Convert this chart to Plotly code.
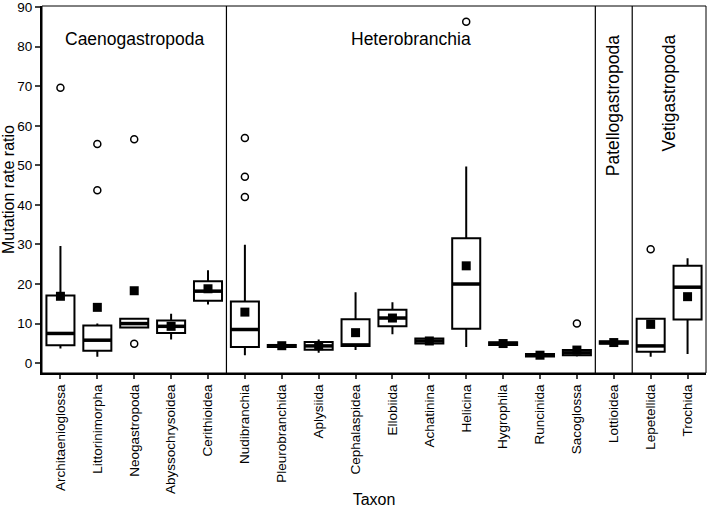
import plotly.graph_objects as go

# taxa, in plotting order
taxa = ["Architaenioglossa", "Littorinimorpha", "Neogastropoda", "Abyssochrysoidea",
        "Cerithioidea", "Nudibranchia", "Pleurobranchida", "Aplysiida", "Cephalaspidea",
        "Ellobiida", "Achatinina", "Helicina", "Hygrophila", "Runcinida", "Sacoglossa",
        "Lottioidea", "Lepetellida", "Trochida"]

# clades and how many taxa each holds
clades = ["Caenogastropoda", "Heterobranchia", "Patellogastropoda", "Vetigastropoda"]
clade_sizes = [5, 10, 1, 2]

# box statistics
q1 = [4.5, 3.1, 9.0, 7.6, 15.8, 4.1, 4.1, 3.4, 4.3, 9.3, 4.95, 8.7, 4.6, 1.7, 2.0, 4.9, 2.85, 11.0]
median = [7.5, 5.8, 10.0, 9.3, 18.2, 8.5, 4.4, 4.35, 4.6, 11.4, 5.6, 20.0, 4.95, 2.0, 2.6, 5.2, 4.35, 19.2]
q3 = [17.1, 9.5, 11.2, 10.8, 20.7, 15.6, 4.6, 5.35, 11.1, 13.5, 6.2, 31.6, 5.3, 2.3, 3.3, 5.5, 11.2, 24.6]
low = [3.7, 1.6, 9.0, 6.0, 14.8, 2.0, 3.9, 2.6, 3.3, 7.3, 4.8, 4.1, 4.3, 1.5, 1.7, 4.7, 1.6, 2.3]
high = [29.6, 10.0, 11.2, 12.5, 23.5, 29.9, 5.0, 5.95, 17.9, 15.4, 6.4, 49.7, 5.5, 2.5, 3.3, 5.7, 11.2, 26.5]
mean = [16.9, 14.1, 18.3, 9.3, 18.8, 12.9, 4.4, 4.4, 7.7, 11.4, 5.6, 24.6, 4.95, 2.0, 3.3, 5.2, 9.8, 16.8]

# outliers (taxon index, value)
out_taxon = [0, 1, 1, 2, 2, 5, 5, 5, 11, 14, 16]
out_value = [69.6, 55.4, 43.7, 56.6, 4.9, 56.9, 47.1, 42.0, 86.3, 10.0, 28.8]

FONT = "Liberation Sans, Arial, Helvetica, sans-serif"
pos = list(range(len(taxa)))
bw = 0.76

fig = go.Figure()

fig.add_trace(go.Box(
    x=pos, q1=q1, median=median, q3=q3, lowerfence=low, upperfence=high,
    width=bw, whiskerwidth=0, fillcolor="white",
    line=dict(color="black", width=2), boxpoints=False, showlegend=False,
    hoverinfo="skip",
))

# thicker median bars
mx, my = [], []
for i, m in zip(pos, median):
    mx += [i - bw / 2, i + bw / 2, None]
    my += [m, m, None]
fig.add_trace(go.Scatter(x=mx, y=my, mode="lines",
                         line=dict(color="black", width=3.5), showlegend=False))

# means
fig.add_trace(go.Scatter(x=pos, y=mean, mode="markers",
                         marker=dict(symbol="square", size=9, color="black"),
                         showlegend=False))

# outliers
fig.add_trace(go.Scatter(x=out_taxon, y=out_value, mode="markers",
                         marker=dict(symbol="circle-open", size=7, color="black",
                                     line=dict(width=1.5)),
                         showlegend=False))

# clade separators and labels
start = 0
for k, (name, n) in enumerate(zip(clades, clade_sizes)):
    end = start + n
    if end < len(taxa):
        fig.add_shape(type="line", x0=end - 0.5, x1=end - 0.5, y0=0, y1=1,
                      xref="x", yref="paper", line=dict(color="black", width=1.2))
    centre = (start + end - 1) / 2
    if n >= 5:
        fig.add_annotation(x=centre, y=82, text=name, showarrow=False,
                           font=dict(size=17.5, color="black", family=FONT))
    else:
        fig.add_annotation(x=centre, y=83.5, text=name, showarrow=False, textangle=-90,
                           yanchor="top", font=dict(size=17.5, color="black", family=FONT))
    start = end

fig.add_shape(type="rect", x0=0, x1=1, y0=0, y1=1, xref="paper", yref="paper",
              line=dict(color="black", width=1))

fig.update_layout(
    width=708, height=508,
    margin=dict(l=42, r=2, t=6, b=135, autoexpand=False),
    plot_bgcolor="white", paper_bgcolor="white",
    font=dict(family=FONT, color="black"),
    xaxis=dict(
        range=[-0.5, len(taxa) - 0.5], tickmode="array", tickvals=pos, ticktext=taxa,
        tickangle=-90, tickfont=dict(size=13.5), ticks="outside", ticklen=4,
        tickwidth=1.5, showline=True, linewidth=2, linecolor="black",
        showgrid=False, zeroline=False,
        title=dict(text="Taxon", font=dict(size=16), standoff=8),
    ),
    yaxis=dict(
        range=[-2.5, 90.3], tickmode="array", tickvals=list(range(0, 91, 10)),
        tickfont=dict(size=13.5), ticks="outside", ticklen=5, tickwidth=1.5,
        ticklabeloverflow="allow",
        showline=True, linewidth=2, linecolor="black",
        showgrid=False, zeroline=False,
        title=dict(text="Mutation rate ratio", font=dict(size=16), standoff=4),
    ),
)

fig.write_html("out.html", config={"displayModeBar": False},
               post_script="document.body.style.margin='0';")
